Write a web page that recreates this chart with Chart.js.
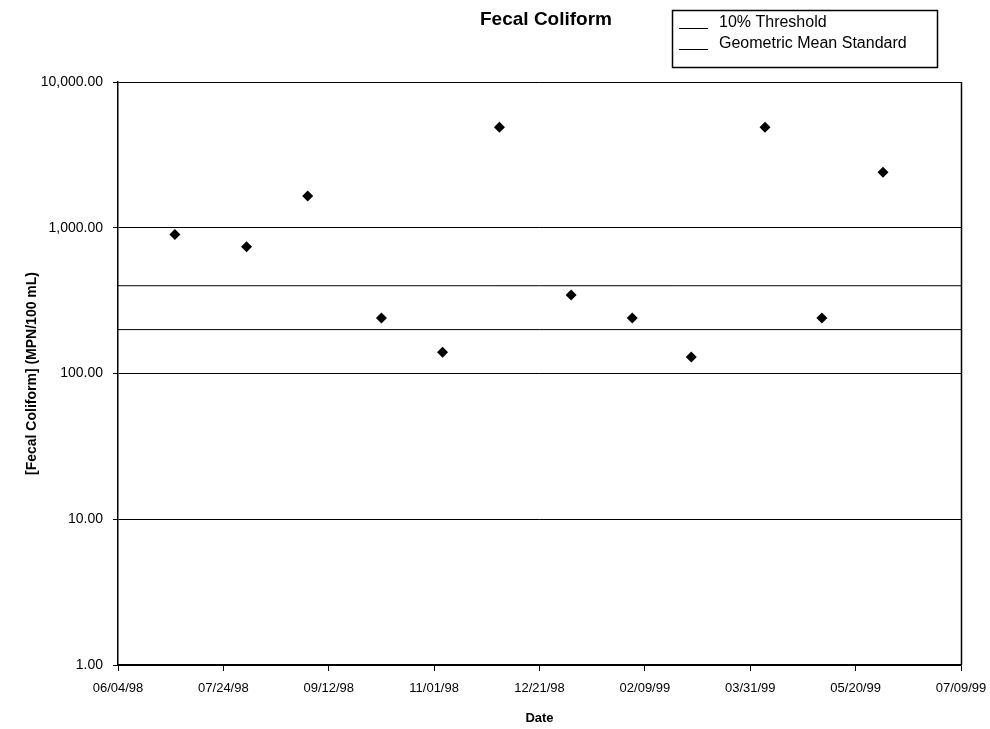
<!DOCTYPE html>
<html>
<head>
<meta charset="utf-8">
<script src="https://cdn.jsdelivr.net/npm/chart.js@4/dist/chart.umd.min.js"></script>
<style>
  html, body { margin: 0; padding: 0; background: #fff; }
  #wrap { width: 990px; height: 729px; position: relative; }
</style>
</head>
<body>
<div id="wrap"><canvas id="c" width="990" height="729"></canvas></div>
<script>
// ---- data ----
const sampleDates = ['07/01/98','08/04/98','09/02/98','10/07/98','11/05/98','12/02/98',
                     '01/05/99','02/03/99','03/03/99','04/07/99','05/04/99','06/02/99'];
const fecalColiform = [900, 740, 1650, 240, 140, 4900, 345, 240, 130, 4900, 240, 2400];
const xTickLabels = ['06/04/98','07/24/98','09/12/98','11/01/98','12/21/98',
                     '02/09/99','03/31/99','05/20/99','07/09/99'];
const yTickValues = [1, 10, 100, 1000, 10000];
const thresholdLabels = ['10% Threshold', 'Geometric Mean Standard'];
const thresholdValues = [400, 200];
const chartTitle = 'Fecal Coliform';
const yTitle = '[Fecal Coliform] (MPN/100 mL)';
const xTitle = 'Date';

// ---- helpers ----
function parseDate(s) {
  const [m, d, y] = s.split('/').map(Number);
  return Date.UTC(1900 + (y < 50 ? 100 + y : y), m - 1, d);
}
const DAY = 86400000;
const t0 = parseDate(xTickLabels[0]);
const dayOf = s => Math.round((parseDate(s) - t0) / DAY);
const xTickDays = xTickLabels.map(dayOf);
const xMin = xTickDays[0], xMax = xTickDays[xTickDays.length - 1];

const FONT = '"Liberation Sans", Arial, sans-serif';

const points = sampleDates.map((d, i) => ({ x: dayOf(d), y: fecalColiform[i] }));

const datasets = [
  {
    type: 'scatter',
    label: 'Fecal Coliform',
    data: points,
    pointStyle: 'rectRot',
    pointRadius: 5.5,
    backgroundColor: '#000',
    borderColor: '#000',
    borderWidth: 0,
    order: 0
  }
];
thresholdLabels.forEach((lab, i) => {
  datasets.push({
    type: 'line',
    label: lab,
    data: [{ x: xMin, y: thresholdValues[i] }, { x: xMax, y: thresholdValues[i] }],
    borderColor: '#000',
    borderWidth: 1,
    pointRadius: 0,
    fill: false,
    isThreshold: true,
    order: 1
  });
});

const decor = {
  id: 'decor',
  afterDraw(chart) {
    const ctx = chart.ctx;
    const a = chart.chartArea;
    ctx.save();
    // right border of plot
    ctx.strokeStyle = '#000';
    ctx.lineWidth = 1.5;
    ctx.beginPath();
    ctx.moveTo(Math.round(a.right) + 0.5, a.top);
    ctx.lineTo(Math.round(a.right) + 0.5, a.bottom);
    ctx.stroke();
    // title
    ctx.fillStyle = '#000';
    ctx.font = 'bold 19px ' + FONT;
    ctx.textAlign = 'center';
    ctx.textBaseline = 'middle';
    ctx.fillText(chartTitle, 546, 20);
    // legend box
    ctx.lineWidth = 1.5;
    ctx.strokeRect(672.5, 10.5, 265, 57);
    ctx.font = '16px ' + FONT;
    ctx.textAlign = 'left';
    const legendItems = chart.data.datasets.filter(d => d.isThreshold);
    legendItems.forEach((d, i) => {
      const ty = 23 + i * 21;
      ctx.lineWidth = 1;
      ctx.beginPath();
      ctx.moveTo(679, ty + 5.5);
      ctx.lineTo(708, ty + 5.5);
      ctx.stroke();
      ctx.fillText(d.label, 719, ty);
    });
    ctx.restore();
  }
};

new Chart(document.getElementById('c'), {
  type: 'scatter',
  data: { datasets },
  plugins: [decor],
  options: {
    responsive: false,
    animation: false,
    layout: { padding: { top: 82, right: 29, bottom: 0, left: 0 } },
    plugins: {
      legend: { display: false },
      title: { display: false },
      tooltip: { enabled: false }
    },
    scales: {
      x: {
        type: 'linear',
        min: xMin,
        max: xMax,
        afterBuildTicks(scale) { scale.ticks = xTickDays.map(v => ({ value: v })); },
        afterFit(scale) { scale.height = 64; scale.paddingLeft = 0; scale.paddingRight = 0; },
        ticks: {
          autoSkip: false,
          maxRotation: 0,
          padding: 10,
          color: '#000',
          font: { family: FONT, size: 13 },
          callback: (v) => { const i = xTickDays.indexOf(v); return i >= 0 ? xTickLabels[i] : ''; }
        },
        grid: { drawOnChartArea: false, drawTicks: true, tickLength: 6, color: '#000', lineWidth: 1 },
        border: { display: true, color: '#000', width: 1.5 },
        title: { display: true, text: xTitle, color: '#000', font: { family: FONT, size: 13, weight: 'bold' }, padding: { top: 0, bottom: 3 } }
      },
      y: {
        type: 'logarithmic',
        min: yTickValues[0],
        max: yTickValues[yTickValues.length - 1],
        afterBuildTicks(scale) { scale.ticks = yTickValues.map(v => ({ value: v, major: true })); },
        afterFit(scale) { scale.width = 118; scale.paddingTop = 0; scale.paddingBottom = 0; },
        ticks: {
          autoSkip: false,
          padding: 10,
          color: '#000',
          font: { family: FONT, size: 14 },
          callback: (v) => Number(v).toLocaleString('en-US', { minimumFractionDigits: 2, maximumFractionDigits: 2 })
        },
        grid: { drawOnChartArea: true, drawTicks: true, tickLength: 5, color: '#000', lineWidth: 1 },
        border: { display: true, color: '#000', width: 1.5 },
        title: { display: true, text: yTitle, color: '#000', font: { family: FONT, size: 14, weight: 'bold' }, padding: { top: 24, bottom: 0 } }
      }
    }
  }
});
</script>
</body>
</html>
